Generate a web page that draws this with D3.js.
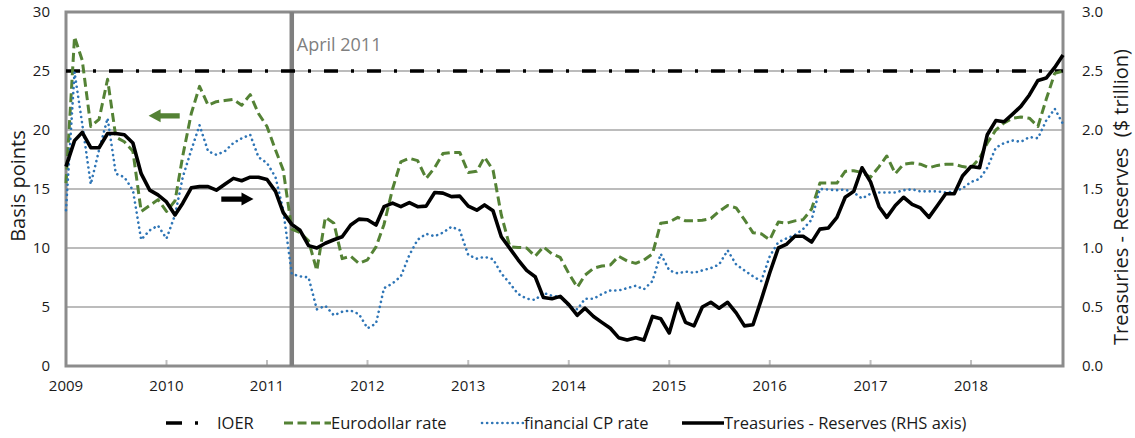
<!DOCTYPE html>
<html><head><meta charset="utf-8">
<script src="https://cdn.jsdelivr.net/npm/d3@7"></script>
<style>
body{margin:0;background:#fff;}
svg{display:block;}
text{font-family:"Open Sans",sans-serif;}
</style>
</head><body>
<svg id="chart" width="1135" height="438"></svg>
<script>
// ---------- data ----------
const firstMonth = new Date(2009, 0, 1);
const lastMonth = new Date(2018, 11, 1);
const yearLabels = ["2009","2010","2011","2012","2013","2014","2015","2016","2017","2018"];
const leftTicks = [0, 5, 10, 15, 20, 25, 30];
const rightTicks = [0, 0.5, 1.0, 1.5, 2.0, 2.5, 3.0];
const seriesNames = ["IOER", "Eurodollar rate", "financial CP rate", "Treasuries - Reserves (RHS axis)"];
const markerLabel = "April 2011";
const markerDate = new Date(2011, 3, 1);

const ioer = [
 25,25,25,25,25,25,25,25,25,25,25,25,
 25,25,25,25,25,25,25,25,25,25,25,25,
 25,25,25,25,25,25,25,25,25,25,25,25,
 25,25,25,25,25,25,25,25,25,25,25,25,
 25,25,25,25,25,25,25,25,25,25,25,25,
 25,25,25,25,25,25,25,25,25,25,25,25,
 25,25,25,25,25,25,25,25,25,25,25,25,
 25,25,25,25,25,25,25,25,25,25,25,25,
 25,25,25,25,25,25,25,25,25,25,25,25,
 25,25,25,25,25,25,25,25,25,25,25,25
];
const eurodollar = [
 15.5,27.9,25.9,20.3,20.9,24.3,19.4,19.0,18.2,13.1,13.6,14.1,
 13.1,14.0,17.8,21.4,23.7,22.1,22.4,22.5,22.6,22.1,23.0,21.4,
 20.3,18.3,16.6,11.6,11.3,10.6,8.1,12.6,12.1,9.1,9.3,8.7,
 9.0,10.1,12.0,15.0,17.3,17.6,17.4,15.9,16.8,18.0,18.1,18.1,
 16.4,16.5,17.7,16.6,12.8,10.1,10.05,10.0,9.3,10.1,9.5,9.2,
 7.85,6.67,7.7,8.28,8.47,8.56,9.3,8.9,8.7,8.98,9.5,12.1,
 12.2,12.6,12.3,12.3,12.35,12.5,13.1,13.6,13.4,12.4,11.3,11.2,
 10.7,12.2,12.1,12.3,12.4,13.3,15.5,15.5,15.5,16.5,16.55,16.4,
 16.0,16.9,17.8,16.3,17.1,17.2,17.1,16.8,17.0,17.1,17.1,16.9,
 16.8,17.6,18.9,20.0,20.6,21.0,21.1,21.0,20.3,22.6,24.8,25.0
];
const financialCP = [
 13.2,24.9,20.5,15.4,18.3,21.0,16.3,16.0,14.9,10.7,11.5,11.9,
 10.8,12.8,16.0,18.3,20.4,18.2,17.9,18.2,18.9,19.3,19.6,17.7,
 17.2,16.0,13.2,7.8,7.6,7.5,4.8,5.1,4.3,4.6,4.7,4.4,
 3.2,3.6,6.6,7.0,7.6,9.4,10.7,11.2,11.0,11.3,11.8,11.5,
 9.4,9.1,9.25,9.05,7.85,7.0,6.1,5.7,5.6,6.2,5.95,5.87,
 5.1,4.8,5.7,5.7,6.1,6.4,6.4,6.6,6.8,6.5,7.2,9.5,
 8.1,7.85,8.0,7.9,8.1,8.3,8.6,9.8,8.6,8.1,7.6,7.2,
 9.3,10.5,10.8,11.1,11.6,12.4,15.0,14.95,14.9,14.95,14.7,14.2,
 14.6,14.7,14.7,14.7,14.9,14.97,14.8,14.8,14.8,14.7,14.8,15.05,
 15.6,15.85,16.8,18.5,18.9,19.1,19.0,19.4,19.3,20.8,21.8,20.5
];
// $ trillion (right axis)
const treasuriesLessReserves = [
 1.69,1.91,1.98,1.85,1.85,1.97,1.97,1.96,1.89,1.63,1.49,1.45,
 1.39,1.28,1.38,1.51,1.52,1.52,1.49,1.54,1.59,1.57,1.60,1.60,
 1.58,1.48,1.30,1.20,1.15,1.02,1.00,1.04,1.07,1.095,1.195,1.245,
 1.24,1.195,1.35,1.38,1.35,1.385,1.35,1.355,1.47,1.465,1.435,1.44,
 1.355,1.32,1.365,1.315,1.095,0.997,0.90,0.81,0.757,0.58,0.57,0.59,
 0.52,0.43,0.49,0.42,0.37,0.32,0.24,0.22,0.24,0.22,0.42,0.40,
 0.28,0.53,0.37,0.34,0.50,0.54,0.49,0.54,0.45,0.34,0.35,0.56,
 0.79,1.00,1.03,1.10,1.10,1.05,1.16,1.17,1.26,1.43,1.48,1.68,
 1.56,1.35,1.26,1.36,1.43,1.37,1.34,1.26,1.36,1.46,1.46,1.61,
 1.69,1.68,1.96,2.08,2.07,2.135,2.20,2.297,2.42,2.44,2.53,2.635
];

// ---------- layout ----------
const plot = {left: 66, right: 1063, top: 12, bottom: 366};
const months = d3.timeMonth.range(firstMonth, d3.timeMonth.offset(lastMonth, 1));

const svg = d3.select("#chart");
const x = d3.scaleTime().domain([firstMonth, lastMonth]).range([plot.left, plot.right]);
const yL = d3.scaleLinear().domain([0, 30]).range([plot.bottom, plot.top]);
const yR = d3.scaleLinear().domain([0, 3]).range([plot.bottom, plot.top]);

const green = "#548235", blue = "#2E75B6", gridCol = "#a6a6a6", frameCol = "#8c8c8c", textCol = "#1a1a1a";

// gridlines
svg.append("g").selectAll("line").data(leftTicks.filter(t => t > 0 && t < 30)).join("line")
  .attr("x1", plot.left).attr("x2", plot.right)
  .attr("y1", d => yL(d)).attr("y2", d => yL(d))
  .attr("stroke", gridCol).attr("stroke-width", 1.3);

// x ticks (inside)
const yearDates = d3.timeYear.range(firstMonth, new Date(2019, 0, 1));
svg.append("g").selectAll("line").data(yearDates.slice(1)).join("line")
  .attr("x1", d => x(d)).attr("x2", d => x(d))
  .attr("y1", plot.bottom).attr("y2", plot.bottom - 6)
  .attr("stroke", "#bfbfbf").attr("stroke-width", 2);

// frame
svg.append("rect").attr("x", plot.left).attr("y", plot.top)
  .attr("width", plot.right - plot.left).attr("height", plot.bottom - plot.top)
  .attr("fill", "none").attr("stroke", frameCol).attr("stroke-width", 3);

// left axis labels
svg.append("g").selectAll("text").data(leftTicks).join("text")
  .attr("x", 50).attr("y", d => yL(d)).attr("dy", "0.35em")
  .attr("text-anchor", "end").attr("font-size", 15).attr("fill", textCol)
  .text(d => d);
// right axis labels
svg.append("g").selectAll("text").data(rightTicks).join("text")
  .attr("x", 1082).attr("y", d => yR(d)).attr("dy", "0.35em")
  .attr("text-anchor", "start").attr("font-size", 15).attr("fill", textCol)
  .text(d => d3.format(".1f")(d));
// x axis labels
svg.append("g").selectAll("text").data(yearDates).join("text")
  .attr("x", d => x(d)).attr("y", 386).attr("dy", "0.35em")
  .attr("text-anchor", "middle").attr("font-size", 15).attr("fill", textCol)
  .text((d, i) => yearLabels[i]);

// axis titles
svg.append("text").attr("transform", `translate(18,186) rotate(-90)`)
  .attr("text-anchor", "middle").attr("dy", "0.35em").attr("font-size", 20).attr("fill", textCol)
  .text("Basis points");
svg.append("text").attr("transform", `translate(1121,197) rotate(-90)`)
  .attr("text-anchor", "middle").attr("dy", "0.35em").attr("font-size", 20).attr("fill", textCol)
  .attr("xml:space", "preserve").style("white-space", "pre")
  .text("Treasuries - Reserves  ($ trillion)");

// April 2011 marker
svg.append("line").attr("x1", x(markerDate)).attr("x2", x(markerDate))
  .attr("y1", plot.top).attr("y2", plot.bottom)
  .attr("stroke", "#7f7f7f").attr("stroke-width", 4.5);
svg.append("text").attr("x", x(markerDate) + 5).attr("y", 51)
  .attr("font-size", 18).attr("fill", "#7f7f7f").text(markerLabel);

// lines
const lineL = d3.line().x((d, i) => x(months[i])).y(d => yL(d));
const lineR = d3.line().x((d, i) => x(months[i])).y(d => yR(d));

const styles = [
  {stroke: "#000", width: 3.5, dash: "14,13,3,13", cap: "butt"},
  {stroke: green, width: 3, dash: "9,4.5", cap: "butt"},
  {stroke: blue, width: 2.6, dash: "0.1,5", cap: "round"},
  {stroke: "#000", width: 3.6, dash: null, cap: "butt"}
];
const seriesData = [ioer, eurodollar, financialCP, treasuriesLessReserves];
const gens = [lineL, lineL, lineL, lineR];

seriesData.forEach((s, k) => {
  svg.append("path").datum(s).attr("d", gens[k])
    .attr("fill", "none").attr("stroke", styles[k].stroke)
    .attr("stroke-width", styles[k].width)
    .attr("stroke-dasharray", styles[k].dash)
    .attr("stroke-linecap", styles[k].cap)
    .attr("stroke-linejoin", "round");
});

// annotation arrows
function arrow(xTail, xTip, yy, color) {
  const dir = Math.sign(xTip - xTail);
  const headLen = 12, headHalf = 6.5, shaft = 2.6;
  const xb = xTip - dir * headLen;
  const p = d3.path();
  p.moveTo(xTail, yy - shaft); p.lineTo(xb, yy - shaft); p.lineTo(xb, yy - headHalf);
  p.lineTo(xTip, yy); p.lineTo(xb, yy + headHalf); p.lineTo(xb, yy + shaft);
  p.lineTo(xTail, yy + shaft); p.closePath();
  svg.append("path").attr("d", p.toString()).attr("fill", color);
}
arrow(x(new Date(2010, 1, 18)), x(new Date(2009, 9, 28)), yL(21.2), green);
arrow(x(new Date(2010, 6, 19)), x(new Date(2010, 10, 13)), yL(14.15), "#000");

// legend
const legendY = 423;
const legendItems = [
  {sx: 166, tx: 217},
  {sx: 284, tx: 331},
  {sx: 482, tx: 524},
  {sx: 682, tx: 724}
];
legendItems.forEach((it, k) => {
  const st = styles[k];
  const len = (k === 0) ? 42 : (it.tx - it.sx);
  svg.append("line").attr("x1", it.sx).attr("x2", it.sx + len)
    .attr("y1", legendY).attr("y2", legendY)
    .attr("stroke", st.stroke).attr("stroke-width", st.width)
    .attr("stroke-dasharray", k === 0 ? "16,13,3,13" : st.dash).attr("stroke-linecap", st.cap);
  svg.append("text").attr("x", it.tx).attr("y", legendY).attr("dy", "0.35em")
    .attr("font-size", 16.5).attr("fill", textCol).text(seriesNames[k]);
});
</script>
</body></html>
